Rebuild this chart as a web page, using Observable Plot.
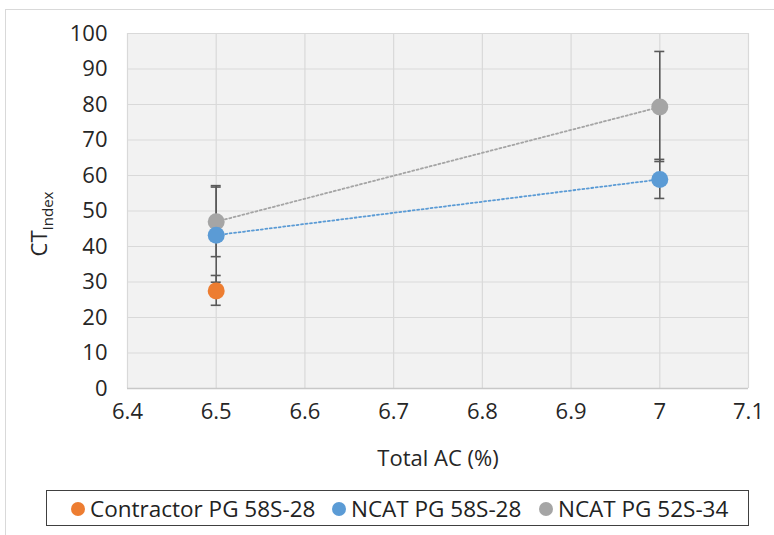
<!DOCTYPE html>
<html><head><meta charset="utf-8">
<script src="https://cdn.jsdelivr.net/npm/d3@7"></script>
<script src="https://cdn.jsdelivr.net/npm/@observablehq/plot@0.6"></script>
<style>
body{margin:0;background:#fff;font-family:"Open Sans",sans-serif;}
#wrap{position:relative;width:774px;height:535px;overflow:hidden;}
#border{position:absolute;left:5px;top:9px;width:800px;height:540px;border:1px solid #d9d9d9;box-sizing:border-box;}
#chart{position:absolute;left:0;top:0;}
#legend{position:absolute;left:46px;top:490px;width:703px;height:36px;border:1.5px solid #404040;box-sizing:border-box;font-size:22.5px;color:#222;}
.it{display:flex;align-items:center;position:absolute;top:1px;height:33px;white-space:nowrap;}
.dot{width:14px;height:14px;border-radius:50%;margin-right:5px;}
</style></head>
<body><div id="wrap"><div id="border"></div><div id="chart"></div><div id="legend"></div></div>
<script>
const seriesNames = ["Contractor PG 58S-28","NCAT PG 58S-28","NCAT PG 52S-34"];
const seriesColors = ["#ED7D31","#5B9BD5","#A5A5A5"];
const acContractor = [6.5];
const ctContractor = [27.5];
const errContractor = [4.2];
const acNcat58 = [6.5, 7.0];
const ctNcat58 = [43.2, 58.9];
const errNcat58 = [13.4, 5.5];
const acNcat52 = [6.5, 7.0];
const ctNcat52 = [47.0, 79.3];
const errNcat52 = [10.0, 15.5];
const xTicks = [6.4,6.5,6.6,6.7,6.8,6.9,7.0,7.1];
const yTicks = [0,10,20,30,40,50,60,70,80,90,100];

function rows(name, xs, ys, es){return xs.map((x,i)=>({series:name,x,y:ys[i],e:es[i]}));}
const data = [
  ...rows(seriesNames[0], acContractor, ctContractor, errContractor),
  ...rows(seriesNames[1], acNcat58, ctNcat58, errNcat58),
  ...rows(seriesNames[2], acNcat52, ctNcat52, errNcat52)
];
const lineData = data.filter(d => d.series !== seriesNames[0]);
const drawOrder = [seriesNames[2], seriesNames[1], seriesNames[0]];
const ordered = drawOrder.flatMap(s => data.filter(d=>d.series===s));
const fmtX = d => d === 7 ? "7" : d3.format(".1f")(d);
const FS = 22;

const chart = Plot.plot({
  width: 774, height: 480,
  marginLeft: 127, marginRight: 26, marginTop: 33, marginBottom: 92,
  style: {fontFamily: '"Open Sans", sans-serif', fontSize: FS + "px", color: "#262626", background: "transparent", overflow: "visible"},
  x: {type: "linear", domain: [6.4, 7.1], label: null},
  y: {type: "linear", domain: [0, 100], label: null},
  color: {domain: seriesNames, range: seriesColors},
  marks: [
    Plot.frame({fill: "#f2f2f2", stroke: null}),
    Plot.gridX(xTicks, {stroke: "#d9d9d9", strokeOpacity: 1, strokeWidth: 1.2}),
    Plot.gridY(yTicks, {stroke: "#d9d9d9", strokeOpacity: 1, strokeWidth: 1.2}),
    Plot.ruleY([0], {stroke: "#c8c8c8", strokeWidth: 1.5}),
    Plot.axisX({ticks: xTicks, tickSize: 0, tickPadding: 15, fontSize: FS, tickFormat: fmtX}),
    Plot.axisY({ticks: yTicks, tickSize: 0, tickPadding: 20, fontSize: FS}),
    Plot.line(lineData, {x: "x", y: "y", z: "series", stroke: "series", strokeWidth: 1.8, strokeDasharray: "2,2.5"}),
    Plot.ruleX(data, {x: "x", y1: d => d.y - d.e, y2: d => d.y + d.e, stroke: "#595959", strokeWidth: 1.6}),
    Plot.dot(ordered, {x: "x", y: "y", fill: "series", r: 8.5, stroke: null}),
    Plot.text(["Total AC (%)"], {frameAnchor: "bottom", dy: 77, fontSize: FS, fill: "#262626"})
  ]
});
const xs = chart.scale("x"), ys = chart.scale("y");
const svg = d3.select(chart);
const capG = svg.insert("g", "g[aria-label='dot']").attr("stroke", "#595959").attr("stroke-width", 1.6);
data.forEach(d => {
  [d.y - d.e, d.y + d.e].forEach(v => {
    const px = xs.apply(d.x), py = ys.apply(v);
    capG.append("line").attr("x1", px-5).attr("x2", px+5).attr("y1", py).attr("y2", py);
  });
});
svg.append("text").attr("transform", "translate(47,224) rotate(-90)").attr("text-anchor","middle")
  .attr("font-family", '"Open Sans", sans-serif').attr("font-size", FS).attr("fill", "#262626")
  .html('CT<tspan font-size="15" dy="6">Index</tspan>');
document.getElementById("chart").appendChild(chart);

const leg = document.getElementById("legend");
const lefts = [24, 285, 492];
seriesNames.forEach((n,i) => {
  const it = document.createElement("div"); it.className = "it"; it.style.left = lefts[i] + "px";
  const dot = document.createElement("div"); dot.className = "dot"; dot.style.background = seriesColors[i];
  const t = document.createElement("span"); t.textContent = n;
  it.appendChild(dot); it.appendChild(t); leg.appendChild(it);
});
</script></body></html>
